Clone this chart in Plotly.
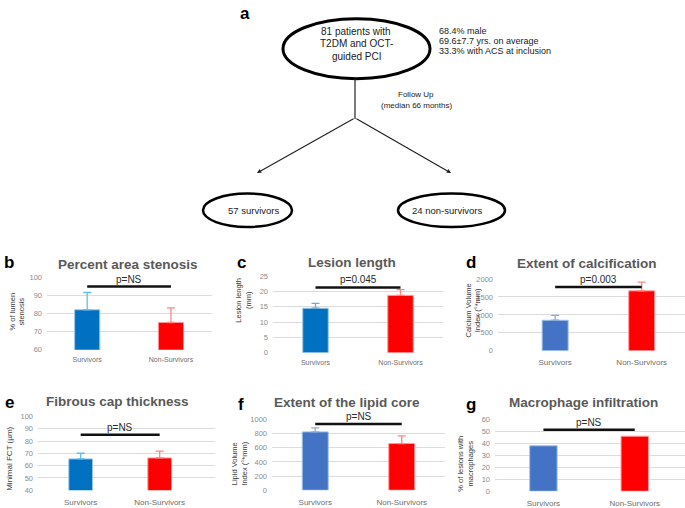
import plotly.graph_objects as go

W, H = 685, 508

# ---------------- data ----------------
categories = ["Survivors", "Non-Survivors"]

panel_letters = ["b", "c", "d", "e", "f", "g"]
panel_titles = ["Percent area stenosis", "Lesion length", "Extent of calcification",
                "Fibrous cap thickness", "Extent of the lipid core", "Macrophage infiltration"]
y_titles = ["% of lumen<br>stenosis", "Lesion length<br>(mm)", "Calcium Volume<br>Index (°*mm)",
            "Minimal FCT (µm)", "Lipid Volume<br>Index (°*mm)", "% of lesions with<br>macrophages"]
p_values = ["p=NS", "p=0.045", "p=0.003", "p=NS", "p=NS", "p=NS"]
p_levels = [94.8, 21.3, 1780, 85.2, 938, 51.5]

stenosis_mean = [82, 75]
stenosis_err = [9.5, 8]
length_mean = [14.5, 18.7]
length_err = [1.6, 1.9]
calc_mean = [850, 1670]
calc_err = [135, 245]
fct_mean = [65.5, 66.3]
fct_err = [4.6, 5.5]
lipid_mean = [825, 660]
lipid_err = [57, 110]
macro_pct = [38, 46]

means = [stenosis_mean, length_mean, calc_mean, fct_mean, lipid_mean, macro_pct]
errs = [stenosis_err, length_err, calc_err, fct_err, lipid_err, None]

y_ranges = [[60, 100], [0, 25], [0, 2000], [40, 100], [0, 1000], [0, 60]]
y_dticks = [10, 5, 500, 10, 200, 10]

flow_top = ["81 patients with", "T2DM and OCT-", "guided PCI"]
flow_side = ["68.4% male", "69.6±7.7 yrs. on average", "33.3% with ACS at inclusion"]
flow_follow = ["Follow Up", "(median 66 months)"]
flow_groups = ["57 survivors", "24 non-survivors"]

# ---------------- layout geometry (pixels) ----------------
x_dom_px = [(47, 212), (273, 443), (498, 685), (38, 215), (272, 445), (495, 685)]
y_dom_px = [(278, 352), (277, 355), (280, 353), (420, 495), (423, 495), (423, 496)]
x_ranges = [[-0.48, 1.49], [-0.5, 1.5], [-0.66, 1.5], [-0.54, 1.7], [-0.5, 1.5], [-0.53, 1.55]]
title_pos = [(128, 265), (352, 263), (587, 264), (117, 405), (347, 406), (583, 406)]
letter_pos = [(9, 263), (241, 263), (471, 263), (9, 406), (241, 408), (471, 408)]
ylab_pos = [(17, 313), (244, 302), (473, 312), (10, 463), (240, 468), (466, 468)]
blue_a = "#0070C0"
blue_b = "#4472C4"
surv_colors = [blue_a, blue_a, blue_b, blue_a, blue_b, blue_b]
surv_err_colors = ["#63BEEE", "#6FA8DC", "#8FAADC", "#63BEEE", "#8FAADC", "#8FAADC"]
red = "#FF0000"
red_err = "#FF8585"
cat_font = [7, 7, 8, 8, 8, 8]
cat_standoff = [4, 4, 5, 6, 6, 6]


def px(x):
    return x / W


def py(y):
    return 1 - y / H


fig = go.Figure()
layout_axes = {}
annotations = []
shapes = []

for i in range(6):
    n = "" if i == 0 else str(i + 1)
    xa, ya = "x" + n, "y" + n
    for j, cat in enumerate(categories):
        color = surv_colors[i] if j == 0 else red
        ecolor = surv_err_colors[i] if j == 0 else red_err
        line_c = "#9DC3E6" if j == 0 else "#FF9999"
        kw = {}
        if errs[i] is not None:
            kw["error_y"] = dict(type="data", symmetric=False, array=[errs[i][j]],
                                 arrayminus=[0], color=ecolor, thickness=1.3, width=4)
        fig.add_trace(go.Bar(x=[cat], y=[means[i][j]], xaxis=xa, yaxis=ya,
                             marker=dict(color=color, line=dict(color=line_c, width=1)),
                             width=0.3, showlegend=False, hoverinfo="skip", **kw))
    layout_axes["xaxis" + n] = dict(
        domain=[px(x_dom_px[i][0]), px(x_dom_px[i][1])], anchor=ya,
        type="category", categoryorder="array", categoryarray=categories,
        range=x_ranges[i], showgrid=False, zeroline=False, showline=False,
        ticks="", tickfont=dict(size=cat_font[i], color="#6E6E6E", family="Liberation Sans, Arial"),
        ticklabelstandoff=cat_standoff[i], fixedrange=True)
    layout_axes["yaxis" + n] = dict(
        domain=[py(y_dom_px[i][1]), py(y_dom_px[i][0])], anchor=xa,
        range=y_ranges[i], dtick=y_dticks[i], tick0=y_ranges[i][0],
        showgrid=True, gridcolor="#DCDCDC", gridwidth=1, zeroline=False, showline=False,
        ticks="", tickfont=dict(size=7.5, color="#8C8C8C", family="Liberation Sans, Arial"),
        ticklabelstandoff=4, fixedrange=True)
    # p-value bracket
    shapes.append(dict(type="line", xref=xa, yref=ya, x0=0, x1=1,
                       y0=p_levels[i], y1=p_levels[i], line=dict(color="#111111", width=2.5)))
    annotations.append(dict(xref=xa, yref=ya, x=0.5, y=p_levels[i], text=p_values[i],
                            showarrow=False, xanchor="center", yanchor="bottom", yshift=0,
                            font=dict(size=10, color="#2B2B2B", family="Liberation Sans, Arial")))
    # titles
    annotations.append(dict(xref="paper", yref="paper", x=px(title_pos[i][0]), y=py(title_pos[i][1]),
                            text="<b>" + panel_titles[i] + "</b>", showarrow=False,
                            xanchor="center", yanchor="middle",
                            font=dict(size=13.5, color="#595959", family="Liberation Sans, Arial")))
    annotations.append(dict(xref="paper", yref="paper", x=px(letter_pos[i][0]), y=py(letter_pos[i][1]),
                            text="<b>" + panel_letters[i] + "</b>", showarrow=False,
                            xanchor="center", yanchor="middle",
                            font=dict(size=17, color="#000000", family="Liberation Sans, Arial")))
    annotations.append(dict(xref="paper", yref="paper", x=px(ylab_pos[i][0]), y=py(ylab_pos[i][1]),
                            text=y_titles[i], showarrow=False, textangle=-90,
                            xanchor="center", yanchor="middle",
                            font=dict(size=7.5 if i != 3 else 8, color="#3A3A3A",
                                      family="Liberation Sans, Arial")))

# ---------------- flowchart (panel a) ----------------
flow_font = "Liberation Sans, Arial"
annotations.append(dict(xref="paper", yref="paper", x=px(245), y=py(10), text="<b>a</b>",
                        xanchor="center", yanchor="middle",
                        showarrow=False, font=dict(size=17, color="#000", family=flow_font)))
shapes.append(dict(type="circle", xref="paper", yref="paper", x0=px(283), x1=px(430),
                   y0=py(76), y1=py(15), line=dict(color="#000", width=3)))
for k, t in enumerate(flow_top):
    annotations.append(dict(xref="paper", yref="paper", x=px(356), y=py(28 + 12.5 * k), text=t,
                            xanchor="center", yanchor="middle",
                            showarrow=False, font=dict(size=10, color="#1A1A1A", family=flow_font)))
for k, t in enumerate(flow_side):
    annotations.append(dict(xref="paper", yref="paper", x=px(437), y=py(27 + 10.5 * k), text=t,
                            showarrow=False, xanchor="left", yanchor="middle",
                            font=dict(size=9, color="#1A1A1A", family=flow_font)))
for k, t in enumerate(flow_follow):
    annotations.append(dict(xref="paper", yref="paper", x=px(416), y=py(92 + 11 * k), text=t,
                            xanchor="center", yanchor="middle",
                            showarrow=False, font=dict(size=8, color="#1A1A1A", family=flow_font)))
shapes.append(dict(type="line", xref="paper", yref="paper", x0=px(355), x1=px(355),
                   y0=py(76), y1=py(117), line=dict(color="#222", width=1.2)))
for hx in (257, 451):
    annotations.append(dict(xref="paper", yref="paper", x=px(hx), y=py(172), ax=355 - hx, ay=117 - 172,
                            axref="pixel", ayref="pixel", text="", showarrow=True,
                            arrowhead=2, arrowsize=0.7, arrowwidth=1.2, arrowcolor="#222"))
shapes.append(dict(type="circle", xref="paper", yref="paper", x0=px(203), x1=px(292),
                   y0=py(227), y1=py(193), line=dict(color="#000", width=2.5)))
shapes.append(dict(type="circle", xref="paper", yref="paper", x0=px(398), x1=px(505),
                   y0=py(227), y1=py(193), line=dict(color="#000", width=2.5)))
annotations.append(dict(xref="paper", yref="paper", x=px(253), y=py(210), text=flow_groups[0],
                        xanchor="center", yanchor="middle",
                        showarrow=False, font=dict(size=9.5, color="#1A1A1A", family=flow_font)))
annotations.append(dict(xref="paper", yref="paper", x=px(447), y=py(210), text=flow_groups[1],
                        xanchor="center", yanchor="middle",
                        showarrow=False, font=dict(size=9.5, color="#1A1A1A", family=flow_font)))

fig.update_layout(width=W, height=H, margin=dict(l=0, r=0, t=0, b=0),
                  paper_bgcolor="white", plot_bgcolor="white",
                  annotations=annotations, shapes=shapes, barmode="overlay",
                  hovermode=False, **layout_axes)

fig.write_html("out.html", config={"displayModeBar": False, "staticPlot": True},
               post_script="document.body.style.margin='0';document.body.style.overflow='hidden';")
